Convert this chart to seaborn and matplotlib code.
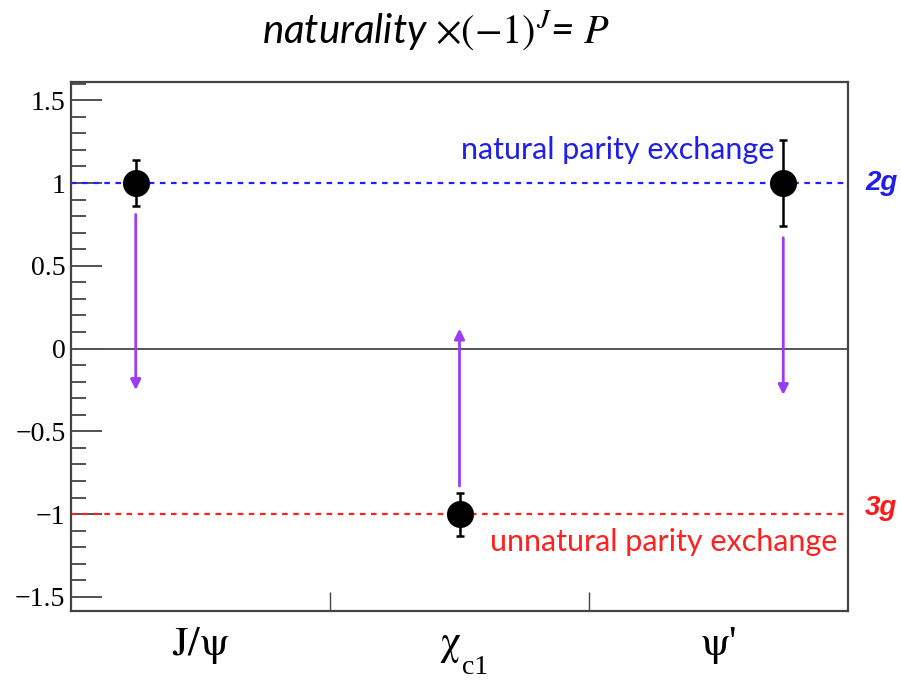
import matplotlib
matplotlib.use("Agg")
import matplotlib.pyplot as plt
from matplotlib.ticker import MultipleLocator, FixedLocator, NullFormatter
import seaborn as sns
import pandas as pd

# Measured parity-exchange naturality for each charmonium state
states = [r"$\mathrm{J/\psi}$", r"$\mathrm{\chi}$", r"$\mathrm{\psi}$'"]
state_subscripts = ["", "c1", ""]
state_x = [0.25, 1.50, 2.75]
naturality = [1.0, -1.0, 1.0]
naturality_err = [0.14, 0.13, 0.26]

# Arrows pointing from each measurement towards the opposite hypothesis
arrow_from = [0.81, -0.83, 0.67]
arrow_to = [-0.25, 0.12, -0.28]

yticks = [-1.5, -1.0, -0.5, 0.0, 0.5, 1.0, 1.5]
ytick_labels = ["\u22121.5", "\u22121", "\u22120.5", "0", "0.5", "1", "1.5"]

sns.set_theme(style="ticks")
plt.rcParams["mathtext.fontset"] = "stix"
plt.rcParams["font.family"] = ["Liberation Serif", "DejaVu Serif"]

df = pd.DataFrame({"x": state_x, "y": naturality, "err": naturality_err})

fig = plt.figure(figsize=(9.01, 6.80), dpi=100)
ax = fig.add_axes([0.0788, 0.1015, 0.8624, 0.7779])

# Reference lines for the two exchange hypotheses
ax.axhline(0, color="#555555", lw=1.4, zorder=1)
ax.axhline(1, color="#1f1fff", lw=1.6, ls=(0, (2.5, 2.5)), zorder=1)
ax.axhline(-1, color="#ff2020", lw=1.6, ls=(0, (2.5, 2.5)), zorder=1)

ax.errorbar(df["x"], df["y"], yerr=df["err"], fmt="none", ecolor="black",
            elinewidth=1.8, capsize=3, capthick=1.8, zorder=3)
sns.scatterplot(data=df, x="x", y="y", s=380, color="black", edgecolor="black",
                linewidth=0, zorder=4, ax=ax, legend=False)

for x, y0, y1 in zip(state_x, arrow_from, arrow_to):
    ax.annotate("", xy=(x, y1), xytext=(x, y0),
                arrowprops=dict(arrowstyle="-|>", color="#9a3cf2", lw=2.0,
                                mutation_scale=15, shrinkA=0, shrinkB=0),
                zorder=2)

ax.set_xlim(0, 3)
ax.set_ylim(-1.585, 1.61)
ax.set_xlabel("")
ax.set_ylabel("")

ax.yaxis.set_major_locator(FixedLocator(yticks))
ax.set_yticklabels(ytick_labels)
ax.yaxis.set_minor_locator(MultipleLocator(0.1))
ax.tick_params(axis="y", which="major", direction="in", length=22, width=1.3,
               labelsize=20, pad=4, right=False, colors="#444444", labelcolor="black")
ax.tick_params(axis="y", which="minor", direction="in", length=11, width=1.3,
               right=False, colors="#444444")

ax.xaxis.set_major_locator(FixedLocator([1, 2]))
ax.xaxis.set_major_formatter(NullFormatter())
ax.tick_params(axis="x", which="major", direction="in", length=14, width=1.0,
               top=False, colors="#444444")

for side in ["left", "right", "top", "bottom"]:
    ax.spines[side].set_visible(True)
    ax.spines[side].set_color("#444444")
    ax.spines[side].set_linewidth(1.6)

# Category names centred in each bin, with a dropped subscript where needed
for i, (name, sub) in enumerate(zip(states, state_subscripts)):
    shift = -0.035 if sub else 0.0
    t = ax.text(i + 0.5 + shift, -0.065, name, transform=ax.get_xaxis_transform(),
                ha="center", va="center", fontsize=30, color="black")
    if sub:
        ax.annotate(sub, xy=(1.0, 0.0), xycoords=t, xytext=(0, -2),
                    textcoords="offset points", ha="left", va="center",
                    fontsize=20, color="black", annotation_clip=False)

sans = ["Lato", "DejaVu Sans"]
ax.text(2.11, 1.2, "natural parity exchange", ha="center", va="center",
        fontsize=22, color="#1f1fe6", family=sans)
ax.text(2.29, -1.17, "unnatural parity exchange", ha="center", va="center",
        fontsize=22, color="#ff2020", family=sans)

ax.text(1.022, 1.0, "2g", transform=ax.get_yaxis_transform(), ha="left",
        va="center", fontsize=20, fontweight="bold", fontstyle="italic",
        color="#1f1fe6", family=["Liberation Sans", "DejaVu Sans"], clip_on=False)
ax.text(1.022, -0.96, "3g", transform=ax.get_yaxis_transform(), ha="left",
        va="center", fontsize=20, fontweight="bold", fontstyle="italic",
        color="#ff1a1a", family=["Liberation Sans", "DejaVu Sans"], clip_on=False)

fig.text(0.484, 0.956, r"naturality $\times(-1)^{J}$= $P$", ha="center",
         va="center", fontsize=29, fontstyle="italic", family=sans, color="black")

fig.savefig("out.png", dpi=100, facecolor="white")
